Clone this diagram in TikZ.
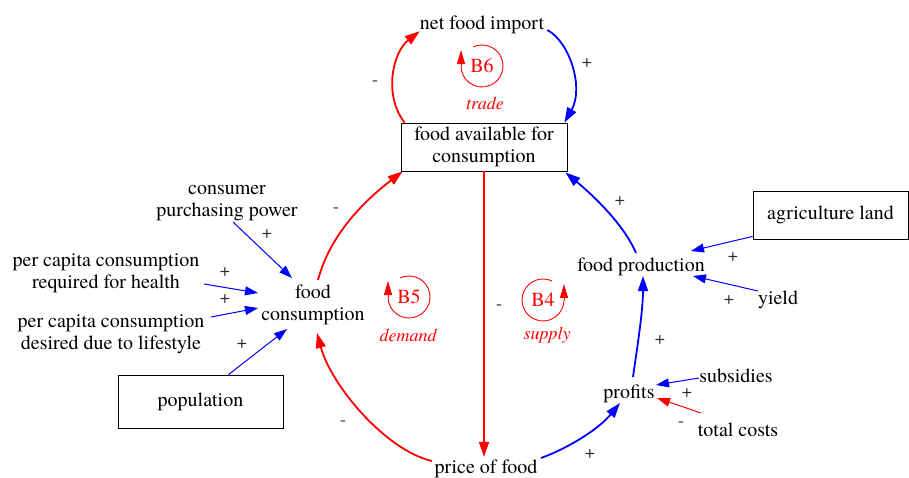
\documentclass[tikz,border=0pt]{standalone}
\usepackage{fontspec}
\setmainfont{texgyretermes}[Extension=.otf, UprightFont=*-regular, ItalicFont=*-italic, BoldFont=*-bold]
\usetikzlibrary{arrows.meta,calc}
\definecolor{cred}{RGB}{255,0,0}
\definecolor{cblue}{RGB}{0,0,255}
\definecolor{sgn}{RGB}{40,40,40}
\begin{document}
\begin{tikzpicture}[x=1pt,y=1pt,
  lbl/.style={font=\fontsize{20}{22}\selectfont, inner sep=0pt, align=center, yshift=-3pt},
  boxn/.style={draw, line width=0.8pt, font=\fontsize{20}{22}\selectfont, align=center, inner sep=2pt},
  sgnl/.style={font=\fontsize{18}{18}\selectfont, text=sgn, inner sep=0pt},
  loopl/.style={font=\fontsize{20}{22}\selectfont, text=cred, inner sep=0pt},
  loopn/.style={font=\fontsize{18}{18}\selectfont\itshape, text=cred, inner sep=0pt},
  mainr/.style={draw=cred, line width=1.8pt, -{Triangle[length=15pt,width=10pt]}},
  mainb/.style={draw=cblue, line width=1.8pt, -{Triangle[length=15pt,width=10pt]}},
  thinb/.style={draw=cblue, line width=1pt, -{Triangle[length=13pt,width=9pt]}},
  thinr/.style={draw=cred, line width=1pt, -{Triangle[length=13pt,width=9pt]}},
  loopc/.style={draw=cred, line width=0.9pt},
  looptip/.style={draw=cred, line width=0.9pt, -{Triangle[length=14pt,width=8pt]}}
]
\useasboundingbox (0,0) rectangle (909,-477);

% nodes
\node[lbl] (nfi) at (482,-22) {net food import};
\node[boxn, minimum width=166pt, minimum height=48pt] (fa) at (484,-147) {food available for\\consumption};
\node[lbl] (fc) at (313,-302) {food\\consumption};
\node[lbl] (pf) at (486,-466) {price of food};
\node[lbl] (pr) at (629,-391) {profits};
\node[lbl] (fp) at (641,-264) {food production};
\node[boxn, minimum width=155pt, minimum height=48pt] (al) at (830.5,-215) {agriculture land};
\node[lbl] (yd) at (778,-297) {yield};
\node[lbl] (sb) at (736,-373) {subsidies};
\node[lbl] (tc) at (738,-427) {total costs};
\node[lbl] (cpp) at (227,-200) {consumer\\purchasing power};
\node[lbl] (hl) at (106,-270) {per capita consumption\\required for health};
\node[lbl] (ls) at (111,-331) {per capita consumption\\desired due to lifestyle};
\node[boxn, minimum width=165pt, minimum height=53pt] (pop) at (200.5,-401.5) {population};

% loop symbols
\node[loopl] (b6) at (482,-66) {B6};
\node[loopl] (b5) at (409,-297) {B5};
\node[loopl] (b4) at (543,-300) {B4};
\node[loopn] (trade) at (485,-103) {trade};
\node[loopn] (demand) at (408,-335) {demand};
\node[loopn] (supply) at (547,-335) {supply};
\draw[loopc] ($(b6)+(115:21)$) arc[start angle=115, end angle=-180, radius=21];
\draw[looptip] ($(b6)+(-21,0)$) -- ++(0,16);
\draw[loopc] ($(b5)+(115:21)$) arc[start angle=115, end angle=-180, radius=21];
\draw[looptip] ($(b5)+(-21,0)$) -- ++(0,16);
\draw[loopc] ($(b4)+(65:21)$) arc[start angle=65, end angle=360, radius=21];
\draw[looptip] ($(b4)+(21,0)$) -- ++(0,16);

% main connectors
\draw[mainr] ($(fa.north west)+(4,0)$) .. controls (383,-95) and (393,-52) .. ($(nfi.south west)+(0,3)$);
\draw[mainb] ($(nfi.east)+(3,-5)$) .. controls (570,-42) and (584,-88) .. ($(fa.north east)+(-3,0)$);
\draw[mainr] ($(fc)+(5,25)$) .. controls (330,-235) and (363,-202) .. ($(fa.south west)+(2,0)$);
\draw[mainr] ($(pf)+(-54,8)$) .. controls (385,-450) and (331,-385) .. ($(fc)+(4,-28)$);
\draw[mainb] ($(pf)+(55,11)$) .. controls (566,-449) and (598,-430) .. ($(pr)+(-9,-9)$);
\draw[mainb] ($(pr)+(4,17)$) .. controls (638,-342) and (643,-310) .. ($(fp)+(2,-9)$);
\draw[mainb] ($(fp)+(-5,14)$) .. controls (624,-225) and (595,-197) .. ($(fa.south east)+(-2,-1)$);
\draw[mainr] (fa.south) -- ($(fa.south |- pf.north)+(0,3)$);

% thin connectors
\draw[thinb] ($(cpp)+(6,-19)$) -- ($(fc)+(-21,27)$);
\draw[thinb] ($(hl)+(98,-11)$) -- ($(fc)+(-55,12)$);
\draw[thinb] ($(ls)+(100,17)$) -- ($(fc)+(-55,-3)$);
\draw[thinb] ($(pop.north)+(28,0)$) -- ($(fc)+(-26,-24)$);
\draw[thinb] ($(al.south west)+(0,3)$) -- ($(fp)+(50,16)$);
\draw[thinb] ($(yd)+(-20,9)$) -- ($(fp)+(52,-9)$);
\draw[thinb] ($(sb)+(-37,-2)$) -- ($(pr)+(27,9)$);
\draw[thinr] ($(tc)+(-37,17)$) -- ($(pr)+(28,-4)$);

% polarity signs
\node[sgnl] (s1) at (375,-83) {-};
\node[sgnl] (s2) at (587,-63) {+};
\node[sgnl] (s3) at (336,-210) {-};
\node[sgnl] (s4) at (343,-423) {-};
\node[sgnl] (s5) at (590,-454) {+};
\node[sgnl] (s6) at (660,-340) {+};
\node[sgnl] (s7) at (620,-201) {+};
\node[sgnl] (s8) at (499,-307) {-};
\node[sgnl] (s9) at (267,-234) {+};
\node[sgnl] (s10) at (225,-272) {+};
\node[sgnl] (s11) at (225,-299) {+};
\node[sgnl] (s12) at (242,-344) {+};
\node[sgnl] (s13) at (733,-257) {+};
\node[sgnl] (s14) at (729,-300) {+};
\node[sgnl] (s15) at (687,-393) {+};
\node[sgnl] (s16) at (681,-424) {-};
\end{tikzpicture}
\end{document}
